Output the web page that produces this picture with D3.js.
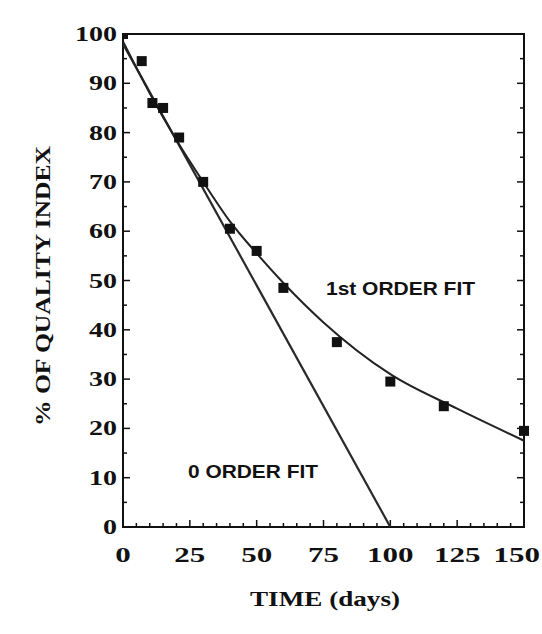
<!DOCTYPE html>
<html>
<head>
<meta charset="utf-8">
<script src="https://cdn.jsdelivr.net/npm/d3@7"></script>
<style>
  html, body { margin: 0; padding: 0; background: #fff; }
  svg { display: block; }
</style>
</head>
<body>
<div id="chart"></div>
<script>
// measured quality index (%) over storage time (days)
const obsDays = [0, 7, 11, 15, 21, 30, 40, 50, 60, 80, 100, 120, 150];
const obsQuality = [100, 94.5, 86, 85, 79, 70, 60.5, 56, 48.5, 37.5, 29.5, 24.5, 19.5];

// fitted curves
const zeroDays = [0, 100];
const zeroQuality = [98, 0];
const firstDays = [0, 10, 20, 30, 40, 50, 60, 75, 100, 125, 150];
const firstQuality = [98.5, 88, 78.5, 70, 62, 55.5, 49.5, 41.5, 31, 24, 17.5];

const xTicks = [0, 25, 50, 75, 100, 125, 150];
const yTicks = [0, 10, 20, 30, 40, 50, 60, 70, 80, 90, 100];

const W = 542, H = 634;
const margin = { left: 123, right: 18, top: 34, bottom: 107 };

const svg = d3.select('#chart').append('svg')
  .attr('width', W)
  .attr('height', H);

const x = d3.scaleLinear().domain([0, 150]).range([margin.left, W - margin.right]);
const y = d3.scaleLinear().domain([0, 100]).range([H - margin.bottom, margin.top]);

const ink = '#111';
const serif = '"Liberation Serif", "DejaVu Serif", serif';
const sans = '"Liberation Sans", Arial, sans-serif';

svg.append('clipPath').attr('id', 'plot-clip')
  .append('rect')
  .attr('x', x(0)).attr('y', y(100))
  .attr('width', x(150) - x(0)).attr('height', y(0) - y(100));

// markers may stick out past the right frame, not the top-left corner
svg.append('clipPath').attr('id', 'mark-clip')
  .append('rect')
  .attr('x', x(0)).attr('y', y(100))
  .attr('width', x(150) - x(0) + 12).attr('height', y(0) - y(100));

// minor + major ticks, pointing inward
const tickG = svg.append('g').attr('stroke', ink).attr('stroke-width', 1.5);
d3.range(5, 150, 5).forEach(v => {
  const len = v % 25 === 0 ? 7 : 4;
  tickG.append('line')
    .attr('x1', x(v)).attr('x2', x(v))
    .attr('y1', y(0)).attr('y2', y(0) - len);
});
d3.range(5, 100, 5).forEach(v => {
  const len = v % 10 === 0 ? 7 : 4;
  tickG.append('line')
    .attr('x1', x(0)).attr('x2', x(0) + len)
    .attr('y1', y(v)).attr('y2', y(v));
  tickG.append('line')
    .attr('x1', x(150)).attr('x2', x(150) - len)
    .attr('y1', y(v)).attr('y2', y(v));
});

// frame
svg.append('rect')
  .attr('x', x(0)).attr('y', y(100))
  .attr('width', x(150) - x(0)).attr('height', y(0) - y(100))
  .attr('fill', 'none')
  .attr('stroke', ink)
  .attr('stroke-width', 2);

const plot = svg.append('g').attr('clip-path', 'url(#plot-clip)');

const line = d3.line()
  .x(d => x(d[0]))
  .y(d => y(d[1]));

plot.append('path')
  .datum(d3.zip(zeroDays, zeroQuality))
  .attr('d', line)
  .attr('fill', 'none')
  .attr('stroke', '#2a2a2a')
  .attr('stroke-width', 2.2);

plot.append('path')
  .datum(d3.zip(firstDays, firstQuality))
  .attr('d', line.curve(d3.curveMonotoneX))
  .attr('fill', 'none')
  .attr('stroke', '#222')
  .attr('stroke-width', 2);

const sq = 10;
svg.append('g').attr('clip-path', 'url(#mark-clip)')
  .selectAll('rect.pt')
  .data(d3.zip(obsDays, obsQuality))
  .join('rect')
  .attr('class', 'pt')
  .attr('x', d => x(d[0]) - sq / 2)
  .attr('y', d => y(d[1]) - sq / 2)
  .attr('width', sq)
  .attr('height', sq)
  .attr('fill', ink);

// tick labels (the original print is stretched horizontally)
svg.append('g').selectAll('text')
  .data(yTicks)
  .join('text')
  .attr('x', x(0) - 6)
  .attr('y', d => y(d) + 7)
  .attr('text-anchor', 'end')
  .attr('font-family', serif)
  .attr('font-weight', 'bold')
  .attr('font-size', 21)
  .attr('fill', ink)
  .attr('textLength', d => String(d).length * 14)
  .attr('lengthAdjust', 'spacingAndGlyphs')
  .text(d => d);

const xLabW = d => String(d).length * 15.5;
svg.append('g').selectAll('text')
  .data(xTicks)
  .join('text')
  .attr('x', d => Math.min(x(d), W - 2 - xLabW(d) / 2))
  .attr('y', y(0) + 35)
  .attr('text-anchor', 'middle')
  .attr('font-family', serif)
  .attr('font-weight', 'bold')
  .attr('font-size', 22)
  .attr('fill', ink)
  .attr('textLength', xLabW)
  .attr('lengthAdjust', 'spacingAndGlyphs')
  .text(d => d);

// curve labels
svg.append('text')
  .attr('x', 326).attr('y', 295)
  .attr('font-family', sans)
  .attr('font-weight', 'bold')
  .attr('font-size', 18)
  .attr('fill', ink)
  .attr('textLength', 149)
  .attr('lengthAdjust', 'spacingAndGlyphs')
  .text('1st ORDER FIT');

svg.append('text')
  .attr('x', 188).attr('y', 478)
  .attr('font-family', sans)
  .attr('font-weight', 'bold')
  .attr('font-size', 18)
  .attr('fill', ink)
  .attr('textLength', 130)
  .attr('lengthAdjust', 'spacingAndGlyphs')
  .text('0 ORDER FIT');

// axis titles
svg.append('text')
  .attr('x', 325).attr('y', 606)
  .attr('text-anchor', 'middle')
  .attr('font-family', serif)
  .attr('font-weight', 'bold')
  .attr('font-size', 22)
  .attr('fill', ink)
  .attr('textLength', 150)
  .attr('lengthAdjust', 'spacingAndGlyphs')
  .text('TIME (days)');

svg.append('text')
  .attr('transform', 'translate(50,286) rotate(-90)')
  .attr('text-anchor', 'middle')
  .attr('font-family', serif)
  .attr('font-weight', 'bold')
  .attr('font-size', 22)
  .attr('fill', ink)
  .attr('textLength', 280)
  .attr('lengthAdjust', 'spacingAndGlyphs')
  .text('% OF QUALITY INDEX');
</script>
</body>
</html>
